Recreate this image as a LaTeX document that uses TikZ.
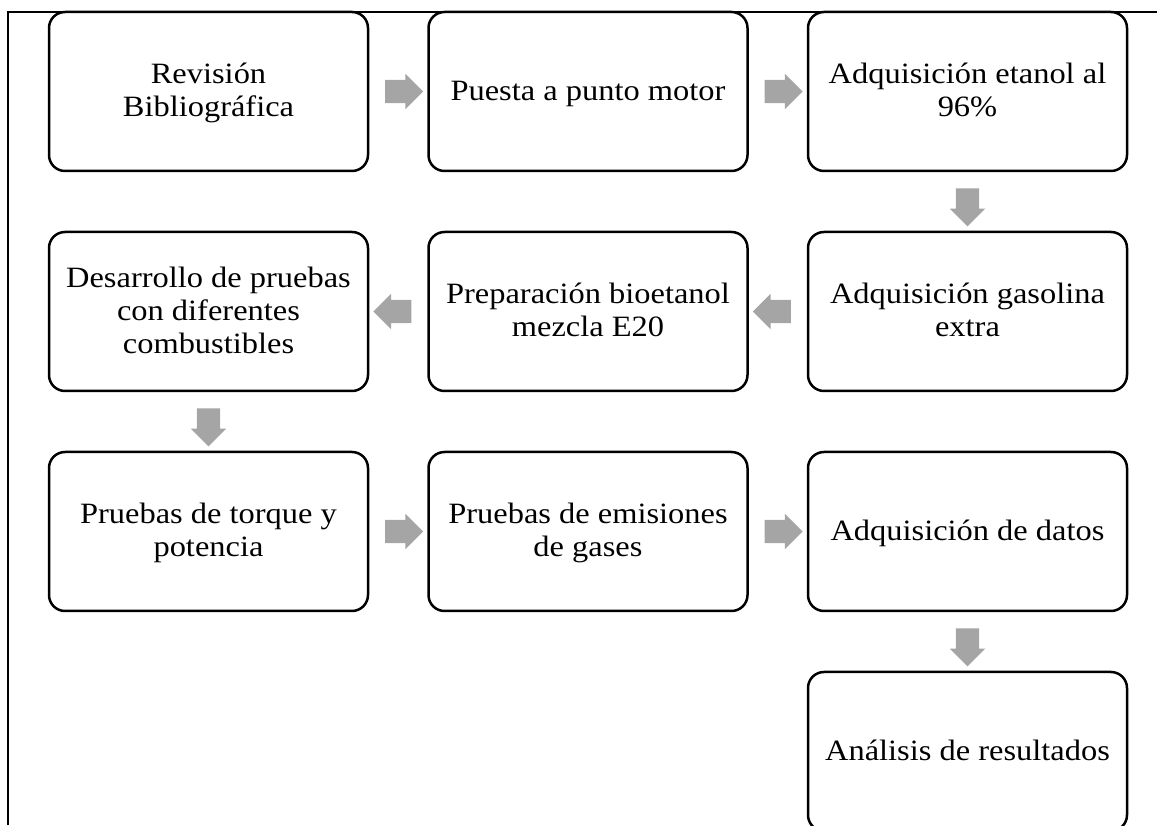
\documentclass[tikz,border=0pt]{standalone}
\usepackage{fontspec}
\setmainfont{Liberation Serif}[FakeStretch=1.1]
\usetikzlibrary{shapes.arrows,calc}
\definecolor{arrgray}{HTML}{A5A5A5}
\newcommand{\lstrut}{\rule[-7.5pt]{0pt}{33pt}}
\tikzset{
  stepbox/.style={draw=black, line width=2.5pt, rounded corners=16pt,
    minimum width=319pt, minimum height=159pt, inner sep=0pt,
    align=center, font=\fontsize{29.5}{33}\selectfont},
  blockarrow/.style={single arrow, fill=arrgray, draw=none,
    minimum height=38pt, minimum width=0pt, single arrow head extend=6pt,
    inner xsep=0pt, inner ysep=11.5pt},
  frameline/.style={line width=1.5pt, black}
}
\begin{document}
\begin{tikzpicture}[x=1pt,y=1pt]
\useasboundingbox (0,0) rectangle (1157,825);
\coordinate (ftl) at (8,813);
\coordinate (fbl) at (8,0);
\coordinate (ftr) at (1157,813);
\draw[frameline] (fbl) -- (ftl) -- (ftr);
% row 1
\node[stepbox] (b1) at (208.5,733.5) {\lstrut Revisión\\\lstrut Bibliográfica};
\node[stepbox] (b2) at (588,733.5) {\lstrut Puesta a punto motor};
\node[stepbox] (b3) at (967.5,733.5) {\lstrut Adquisición etanol al\\\lstrut 96\%};
% row 2
\node[stepbox] (b4) at (967.5,513.5) {\lstrut Adquisición gasolina\\\lstrut extra};
\node[stepbox] (b5) at (588,513.5) {\lstrut Preparación bioetanol\\\lstrut mezcla E20};
\node[stepbox] (b6) at (208.5,513.5) {\lstrut Desarrollo de pruebas\\\lstrut con diferentes\\\lstrut combustibles};
% row 3
\node[stepbox] (b7) at (208.5,293.5) {\lstrut Pruebas de torque y\\\lstrut potencia};
\node[stepbox] (b8) at (588,293.5) {\lstrut Pruebas de emisiones\\\lstrut de gases};
\node[stepbox] (b9) at (967.5,293.5) {\lstrut Adquisición de datos};
% row 4
\node[stepbox] (b10) at (967.5,73.5) {\lstrut Análisis de resultados};
% arrows
\node[blockarrow] (a1) at ($(b1.east)!0.5!(b2.west)$) {};
\node[blockarrow] (a2) at ($(b2.east)!0.5!(b3.west)$) {};
\node[blockarrow, rotate=-90] (a3) at ($(b3.south)!0.5!(b4.north)$) {};
\node[blockarrow, rotate=180] (a4) at ($(b4.west)!0.5!(b5.east)$) {};
\node[blockarrow, rotate=180] (a5) at ($(b5.west)!0.5!(b6.east)$) {};
\node[blockarrow, rotate=-90] (a6) at ($(b6.south)!0.5!(b7.north)$) {};
\node[blockarrow] (a7) at ($(b7.east)!0.5!(b8.west)$) {};
\node[blockarrow] (a8) at ($(b8.east)!0.5!(b9.west)$) {};
\node[blockarrow, rotate=-90] (a9) at ($(b9.south)!0.5!(b10.north)$) {};
\end{tikzpicture}
\end{document}
